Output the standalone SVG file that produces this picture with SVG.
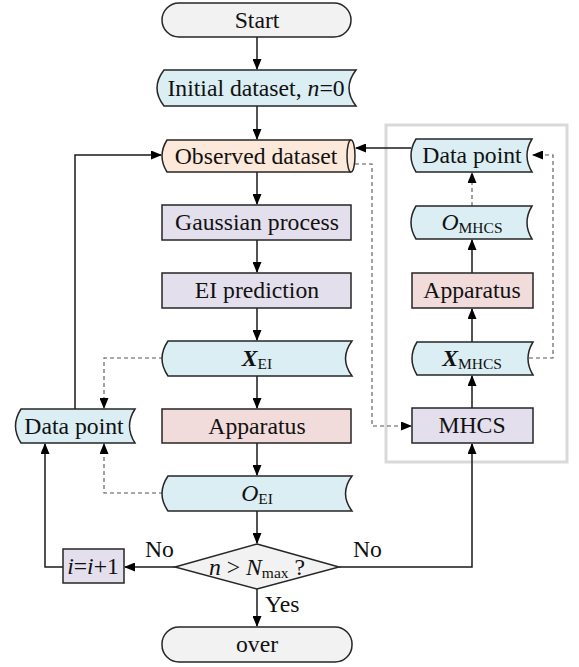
<svg xmlns="http://www.w3.org/2000/svg" width="579" height="667" viewBox="0 0 579 667" font-family="'Liberation Serif', 'Times New Roman', 'DejaVu Serif', serif">
<defs>
<marker id="ah" markerUnits="userSpaceOnUse" markerWidth="11" markerHeight="9" refX="10" refY="4.5" orient="auto">
<path d="M0,0 L11,4.5 L0,9 z" fill="#000"/>
</marker>
<style>
text{font-family:'Liberation Serif','Times New Roman','DejaVu Serif',serif;font-size:23.7px;fill:#111;text-anchor:middle}
.sub{font-size:15.5px}
.it{font-style:italic}
.bi{font-style:italic;font-weight:bold}
.term{fill:#f2f2f2;stroke:#262626;stroke-width:1.5}
.data{fill:#daeef3;stroke:#262626;stroke-width:1.5}
.proc{fill:#e4dfec;stroke:#262626;stroke-width:1.5}
.app{fill:#f2dcdb;stroke:#262626;stroke-width:1.5}
.obs{fill:#fde9d9;stroke:#262626;stroke-width:1.5}
.ln{fill:none;stroke:#1a1a1a;stroke-width:1.5}
.dl{fill:none;stroke:#555;stroke-width:1.1;stroke-dasharray:4,3}
.lbl{text-anchor:start}
</style>
</defs>
<rect id="frame" x="386" y="125" width="181" height="337" fill="none" stroke="#d9d9d9" stroke-width="3"/>
<g id="connectors">
<path class="ln" d="M257,37 V69" marker-end="url(#ah)"/>
<path class="ln" d="M257,106 V139" marker-end="url(#ah)"/>
<path class="ln" d="M257,172 V204" marker-end="url(#ah)"/>
<path class="ln" d="M257,240 V272" marker-end="url(#ah)"/>
<path class="ln" d="M257,308 V340" marker-end="url(#ah)"/>
<path class="ln" d="M257,376 V408" marker-end="url(#ah)"/>
<path class="ln" d="M257,443 V475" marker-end="url(#ah)"/>
<path class="ln" d="M257,511 V543" marker-end="url(#ah)"/>
<path class="ln" d="M257,589 V626" marker-end="url(#ah)"/>
<path class="ln" d="M175,567 H125" marker-end="url(#ah)"/>
<path class="ln" d="M63,567 H45 V444" marker-end="url(#ah)"/>
<path class="ln" d="M75,409 V155 H161" marker-end="url(#ah)"/>
<path class="dl" d="M163,358 H104 V408" marker-end="url(#ah)"/>
<path class="dl" d="M163,493 H104 V444" marker-end="url(#ah)"/>
<path class="ln" d="M339,567 H472 V444" marker-end="url(#ah)"/>
<path class="ln" d="M472,408 V376" marker-end="url(#ah)"/>
<path class="ln" d="M472,342 V309" marker-end="url(#ah)"/>
<path class="ln" d="M472,273 V240" marker-end="url(#ah)"/>
<path class="dl" d="M472,206 V173" marker-end="url(#ah)"/>
<path class="dl" d="M529,358 H553 V155 H533" marker-end="url(#ah)"/>
<path class="ln" d="M411,148 H356" marker-end="url(#ah)"/>
<path class="dl" d="M355,164 H372 V426 H411" marker-end="url(#ah)"/>
<text class="lbl" x="145" y="557">No</text>
<text class="lbl" x="353" y="557">No</text>
<text class="lbl" x="265" y="612">Yes</text>
</g>
<g id="start">
<rect class="term" x="162" y="3" width="189" height="34" rx="17"/>
<text x="257" y="28">Start</text>
</g>
<g id="initial">
<path class="data" d="M164,70 H356 Q342,88 356,106 H164 Q150,88 164,70 Z"/>
<text x="256" y="96">Initial dataset, <tspan class="it">n</tspan>=0</text>
</g>
<g id="observed">
<path class="obs" d="M167,140 H351 A4,16 0 0 1 351,172 H167 Q157,156 167,140 Z"/>
<path class="obs" d="M351,140 A4,16 0 0 0 351,172" fill="none"/>
<text x="256" y="164">Observed dataset</text>
</g>
<g id="gaussian">
<rect class="proc" x="162" y="205" width="189" height="35"/>
<text x="257" y="230">Gaussian process</text>
</g>
<g id="ei">
<rect class="proc" x="162" y="273" width="189" height="35"/>
<text x="257" y="298">EI prediction</text>
</g>
<g id="xei">
<path class="data" d="M168,341 H352 Q339,358.5 352,376 H168 Q156,358.5 168,341 Z"/>
<text x="257" y="366"><tspan class="bi">X</tspan><tspan class="sub" dy="3">EI</tspan></text>
</g>
<g id="apparatus1">
<rect class="app" x="162" y="409" width="189" height="34"/>
<text x="257" y="434">Apparatus</text>
</g>
<g id="oei">
<path class="data" d="M168,476 H352 Q339,493.5 352,511 H168 Q156,493.5 168,476 Z"/>
<text x="257" y="501"><tspan class="it">O</tspan><tspan class="sub" dy="3">EI</tspan></text>
</g>
<g id="decision">
<polygon class="term" points="257,544 339,567 257,589 175,567"/>
<text x="257" y="575"><tspan class="it">n</tspan> &gt; <tspan class="it">N</tspan><tspan class="sub" dy="3">max</tspan><tspan dy="-3"> ?</tspan></text>
</g>
<g id="over">
<rect class="term" x="162" y="627" width="190" height="35" rx="17"/>
<text x="257" y="652">over</text>
</g>
<g id="increment">
<rect class="proc" x="63" y="549" width="61" height="34"/>
<text x="93" y="574"><tspan class="it">i</tspan>=<tspan class="it">i</tspan>+1</text>
</g>
<g id="datapoint1">
<path class="data" d="M21,409 H135 Q124,426 135,443 H21 Q10,426 21,409 Z"/>
<text x="74" y="434">Data point</text>
</g>
<g id="datapoint2">
<path class="data" d="M416,139 H532 Q522,155.5 532,172 H416 Q406,155.5 416,139 Z"/>
<text x="472" y="163">Data point</text>
</g>
<g id="omhcs">
<path class="data" d="M416,206 H532 Q522,222.5 532,239 H416 Q406,222.5 416,206 Z"/>
<text x="472" y="230"><tspan class="it">O</tspan><tspan class="sub" dy="3">MHCS</tspan></text>
</g>
<g id="apparatus2">
<rect class="app" x="412" y="273" width="121" height="35"/>
<text x="472" y="298">Apparatus</text>
</g>
<g id="xmhcs">
<path class="data" d="M417,342 H533 Q523,358.5 533,375 H417 Q407,358.5 417,342 Z"/>
<text x="472" y="366"><tspan class="bi">X</tspan><tspan class="sub" dy="3">MHCS</tspan></text>
</g>
<g id="mhcs">
<rect class="proc" x="412" y="408" width="121" height="35"/>
<text x="472" y="433">MHCS</text>
</g>
</svg>
